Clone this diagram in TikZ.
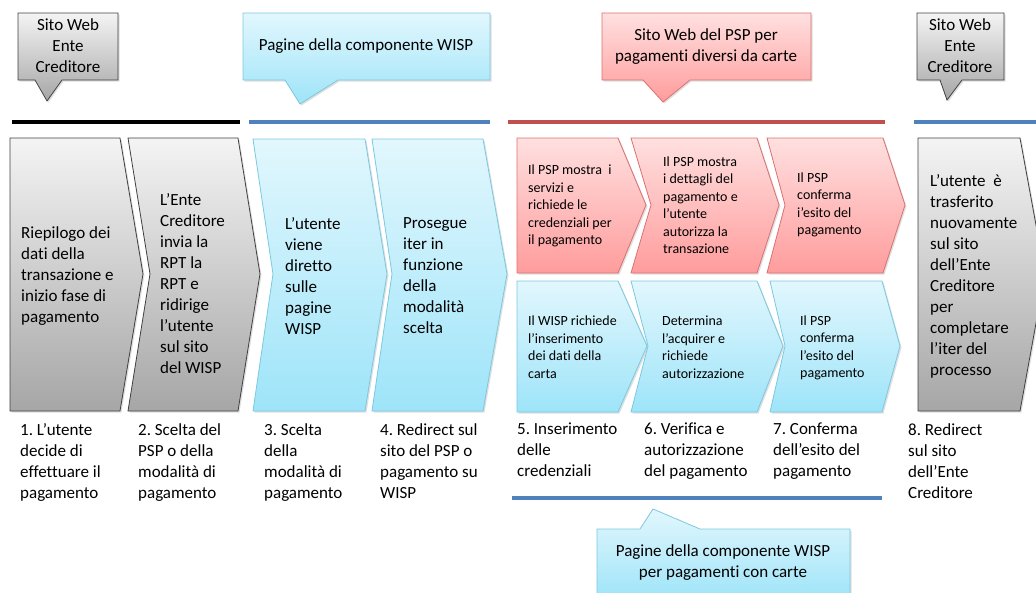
\documentclass[tikz,border=0pt]{standalone}
\usepackage{fontspec}
\setmainfont{Carlito}[Ligatures={TeX,NoCommon}]
\usetikzlibrary{shadows}
\definecolor{grytop}{HTML}{F4F4F4}
\definecolor{grybot}{HTML}{A6A6A6}
\definecolor{grydraw}{HTML}{404040}
\definecolor{blutop}{HTML}{E2F7FD}
\definecolor{blubot}{HTML}{9EE4F9}
\definecolor{bludraw}{HTML}{7CC8DE}
\definecolor{redtop}{HTML}{FFE0E0}
\definecolor{redbot}{HTML}{FF9C9C}
\definecolor{reddraw}{HTML}{D9716F}
\definecolor{barblue}{HTML}{4F81BD}
\definecolor{barred}{HTML}{C0504D}
\frenchspacing

\begin{document}
\begin{tikzpicture}[x=1pt, y=-1pt,
  shd/.style={drop shadow={opacity=0.25, shadow xshift=1.5pt, shadow yshift=-1.5pt}},
  grybox/.style={shd, draw=grydraw, line width=0.8pt, top color=grytop, bottom color=grybot},
  blubox/.style={shd, draw=bludraw, line width=0.8pt, top color=blutop, bottom color=blubot},
  redbox/.style={shd, draw=reddraw, line width=0.8pt, top color=redtop, bottom color=redbot},
  bar/.style={line width=4pt},
  txt/.style={inner sep=0pt, align=left, anchor=west, font=\fontsize{17}{21}\selectfont},
  stxt/.style={inner sep=0pt, align=left, anchor=west, font=\fontsize{14}{17.5}\selectfont},
  lbl/.style={txt, anchor=north west},
  ctxt/.style={inner sep=0pt, align=center, font=\fontsize{17}{21}\selectfont}]
\useasboundingbox (0,0) rectangle (1036,592);

% ----------------- Callouts -----------------
\draw[grybox] (18,13) -- (118,13) -- (118,80) -- (62,80) -- (47,101) -- (35,80) -- (18,80) -- cycle;
\node (c1) [ctxt] at (68,46) {Sito Web\\Ente\\Creditore};

\draw[blubox] (243,13) -- (490,13) -- (490,80) -- (338,80) -- (300,104) -- (285,80) -- (243,80) -- cycle;
\node (c2) [ctxt] at (366,46) {Pagine della componente WISP};

\draw[redbox] (602,13) -- (811,13) -- (811,80) -- (690,80) -- (663,102) -- (643,80) -- (602,80) -- cycle;
\node (c3) [ctxt] at (706,47) {Sito Web del PSP per\\pagamenti diversi da carte};

\draw[grybox] (917,13) -- (1004,13) -- (1004,80) -- (962,80) -- (947,100) -- (940,80) -- (917,80) -- cycle;
\node (c4) [ctxt] at (960,46) {Sito Web\\Ente\\Creditore};

% ----------------- Bars -----------------
\draw[bar, black] (12,122) -- (240,122);
\draw[bar, barblue] (249,122) -- (490,122);
\draw[bar, barred] (508,122) -- (885,122);
\draw[bar, barblue] (914,122) -- (1040,122);
\draw[bar, barblue] (512,498) -- (882,498);

% ----------------- Big chevrons -----------------
\draw[grybox] (10,138) -- (120,138) -- (143,274) -- (120,411) -- (10,411) -- cycle;
\node (t1) [txt] at (21,276) {Riepilogo dei\\dati della\\transazione e\\inizio fase di\\pagamento};

\draw[grybox] (128,138) -- (238,138) -- (260,274) -- (238,411) -- (128,411) -- (150,274) -- cycle;
\node (t2) [txt] at (160,284) {L'Ente\\Creditore\\invia la\\RPT la\\RPT e\\ridirige\\l'utente\\sul sito\\del WISP};

\draw[blubox] (253,139) -- (365,139) -- (387,274) -- (365,411) -- (253,411) -- (273,274) -- cycle;
\node (t3) [txt] at (285,276) {L'utente\\viene\\diretto\\sulle\\pagine\\WISP};

\draw[blubox] (372,139) -- (483,139) -- (507,274) -- (483,411) -- (372,411) -- (392,274) -- cycle;
\node (t4) [txt] at (403,276) {Prosegue\\iter in\\funzione\\della\\modalità\\scelta};

\draw[grybox] (918,138) -- (1020,138) -- (1045,274) -- (1020,411) -- (918,411) -- cycle;
\node (t8) [txt] at (930,276) {L'utente~ è\\trasferito\\nuovamente\\sul sito\\dell'Ente\\Creditore\\per\\completare\\l'iter del\\processo};

% ----------------- Small chevrons, first row -----------------
\draw[redbox] (517,138) -- (618,138) -- (646,205) -- (618,273) -- (517,273) -- cycle;
\node (t5a) [stxt] at (528,206) {Il PSP mostra~ i\\servizi e\\richiede le\\credenziali per\\il pagamento};

\draw[redbox] (631,138) -- (757,138) -- (779,205) -- (757,273) -- (631,273) -- (651,205) -- cycle;
\node (t6a) [stxt] at (663,205) {Il PSP mostra\\i dettagli del\\pagamento e\\l'utente\\autorizza la\\transazione};

\draw[redbox] (767,138) -- (883,138) -- (905,205) -- (883,273) -- (767,273) -- (785,205) -- cycle;
\node (t7a) [stxt] at (797,205) {Il PSP\\conferma\\i'esito del\\pagamento};

% ----------------- Small chevrons, second row -----------------
\draw[blubox] (517,281) -- (618,281) -- (647,346) -- (618,412) -- (517,412) -- cycle;
\node (t5b) [stxt] at (528,347) {Il WISP richiede\\l'inserimento\\dei dati della\\carta};

\draw[blubox] (631,281) -- (757,281) -- (783,346) -- (757,412) -- (631,412) -- (648,346) -- cycle;
\node (t6b) [stxt] at (662,347) {Determina\\l'acquirer e\\richiede\\autorizzazione};

\draw[blubox] (770,281) -- (882,281) -- (900,346) -- (882,412) -- (770,412) -- (785,346) -- cycle;
\node (t7b) [stxt] at (800,348) {Il PSP\\conferma\\l'esito del\\pagamento};

% ----------------- Step labels -----------------
\node (l1) [lbl] at (20,423) {1. L'utente\\decide di\\effettuare il\\pagamento};
\node (l2) [lbl] at (138,423) {2. Scelta del\\PSP o della\\modalità di\\pagamento};
\node (l3) [lbl] at (264,423) {3. Scelta\\della\\modalità di\\pagamento};
\node (l4) [lbl] at (380,423) {4. Redirect sul\\sito del PSP o\\pagamento su\\WISP};
\node (l5) [lbl] at (517,423) {5. Inserimento\\delle\\credenziali};
\node (l6) [lbl] at (644,423) {6. Verifica e\\autorizzazione\\del pagamento};
\node (l7) [lbl] at (773,423) {7. Conferma\\dell'esito del\\pagamento};
\node (l8) [lbl] at (908,423) {8. Redirect\\sul sito\\dell'Ente\\Creditore};

% ----------------- Bottom callout -----------------
\draw[blubox] (597,529) -- (640,529) -- (653,509) -- (700,529) -- (850,529) -- (850,600) -- (597,600) -- cycle;
\node (c5) [ctxt] at (723,563) {Pagine della componente WISP\\per pagamenti con carte};

\end{tikzpicture}
\end{document}
